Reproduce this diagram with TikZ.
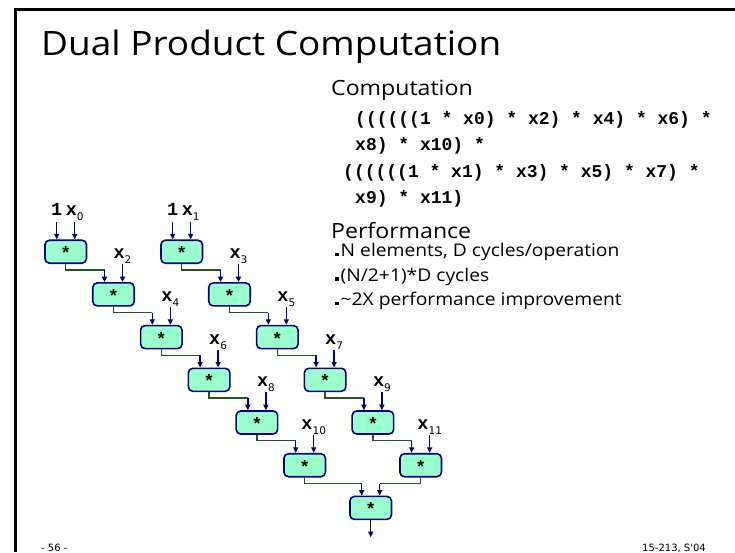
\documentclass[tikz,border=0pt]{standalone}
\usepackage{fontspec}
\setmainfont{Open Sans}[FakeStretch=1.1]
\newfontfamily\codefont{Liberation Mono}
\newfontfamily\smallfont{DejaVu Sans}
\usetikzlibrary{arrows.meta,calc}

\definecolor{opfill}{HTML}{99FFCC}
\definecolor{opline}{HTML}{000080}
\definecolor{linkgreen}{HTML}{225522}

\begin{document}
\begin{tikzpicture}[x=1pt,y=-1pt,
  op/.style={draw=opline, fill=opfill, line width=1.6pt, rounded corners=4.5pt,
    minimum width=41.5pt, minimum height=23pt, inner sep=0pt,
    font=\codefont\bfseries\fontsize{18}{18}\selectfont, text height=16pt, text depth=0pt},
  inlabel/.style={inner sep=0pt, anchor=base, text depth=5.5pt,
    font=\codefont\bfseries\fontsize{18.5}{18}\selectfont},
  inarrow/.style={draw=opline, line width=1.3pt, -{Triangle[length=5.5pt,width=5pt]}},
  link/.style={draw=linkgreen, line width=1.3pt},
  txt/.style={anchor=base west, inner sep=0pt},
  code/.style={txt, font=\codefont\bfseries\fontsize{18}{18}\selectfont},
  head/.style={txt, font=\fontsize{21}{24}\selectfont},
  bullet/.style={txt, font=\fontsize{17.5}{20}\selectfont},
  foot/.style={txt, font=\smallfont\fontsize{10}{12}\selectfont}]

% page area
\useasboundingbox (0,0) rectangle (735,552);
\fill[white] (0,0) rectangle (735,552);

% slide frame
\coordinate (frameTL) at (15,9);
\coordinate (frameTR) at (735,9);
\coordinate (frameBL) at (15,552);
\draw[line width=3pt] (frameTR) -- (frameTL) -- (frameBL);

% title and text
\node[txt, font=\fontsize{33.6}{40}\selectfont] (title) at (41,55) {Dual Product Computation};
\node[head] (hcomp) at (331,95) {Computation};
\node[code] (c1) at (355,124) {((((((1 * x0) * x2) * x4) * x6) *};
\node[code] (c2) at (355,150) {x8) * x10) *};
\node[code] (c3) at (343,177) {((((((1 * x1) * x3) * x5) * x7) *};
\node[code] (c4) at (355,203) {x9) * x11)};
\node[head] (hperf) at (331,238) {Performance};
\node[bullet] (b1) at (335,256.5) {\rule[0.5pt]{3.5pt}{3.5pt}\hspace{2pt}N elements, D cycles/operation};
\node[bullet] (b2) at (335,281) {\rule[0.5pt]{3.5pt}{3.5pt}\hspace{2pt}(N/2+1)*D cycles};
\node[bullet] (b3) at (335,305.5) {\rule[0.5pt]{3.5pt}{3.5pt}\hspace{2pt}\textasciitilde 2X performance improvement};
\node[foot] (pg) at (41,551) {- 56 -};
\node[foot] (course) at (642,551) {15-213, S'04};

% multiplier chains
\foreach \i in {0,...,5}{
  \node[op] (L\i) at ({65.7+47.8*\i},{251.7+42.7*\i}) {*};
  \node[op] (R\i) at ({181.7+47.8*\i},{251.7+42.7*\i}) {*};
  \coordinate (Lin\i) at ([xshift=-9pt]L\i.north);
  \coordinate (Rin\i) at ([xshift=-9pt]R\i.north);
  \coordinate (Lx\i) at ([xshift=9pt]L\i.north);
  \coordinate (Rx\i) at ([xshift=9pt]R\i.north);
}
\node[op] (F) at (370.7,507.9) {*};
\coordinate (Fl) at ([xshift=-9pt]F.north);
\coordinate (Fr) at ([xshift=9pt]F.north);
\coordinate (out) at ([yshift=-17pt]F.south);

% initial operands
\node[inlabel] (oneL) at ([yshift=23.5pt]Lin0) {1};
\node[inlabel] (oneR) at ([yshift=23.5pt]Rin0) {1};
\draw[inarrow] (oneL.south) -- (Lin0);
\draw[inarrow] (oneR.south) -- (Rin0);

% element operands
\foreach \i/\k in {0/0,1/2,2/4,3/6,4/8,5/10}{
  \node[inlabel] (xe\k) at ([yshift=23.5pt]Lx\i) {x\raisebox{-5pt}{\smallfont\mdseries\fontsize{10.5}{10}\selectfont\k}};
  \draw[inarrow] (xe\k.south) -- (Lx\i);
}
\foreach \i/\k in {0/1,1/3,2/5,3/7,4/9,5/11}{
  \node[inlabel] (xo\k) at ([yshift=23.5pt]Rx\i) {x\raisebox{-5pt}{\smallfont\mdseries\fontsize{10.5}{10}\selectfont\k}};
  \draw[inarrow] (xo\k.south) -- (Rx\i);
}

% partial products passed down each chain
\foreach \i/\j in {0/1,1/2,2/3,3/4,4/5}{
  \draw[link] (L\i.south) -- ++(0,6) coordinate (Lb\i) -- (Lb\i -| Lin\j) coordinate (Lk\j);
  \draw[inarrow] (Lk\j) -- (Lin\j);
  \draw[link] (R\i.south) -- ++(0,6) coordinate (Rb\i) -- (Rb\i -| Rin\j) coordinate (Rk\j);
  \draw[inarrow] (Rk\j) -- (Rin\j);
}

% combining the two chains
\draw[link] (L5.south) -- ++(0,6) coordinate (Lb5) -- (Lb5 -| Fl) coordinate (Fkl);
\draw[inarrow] (Fkl) -- (Fl);
\draw[link] (R5.south) -- ++(0,6) coordinate (Rb5) -- (Rb5 -| Fr) coordinate (Fkr);
\draw[inarrow] (Fkr) -- (Fr);
\draw[inarrow] (F.south) -- (out);
\end{tikzpicture}
\end{document}
